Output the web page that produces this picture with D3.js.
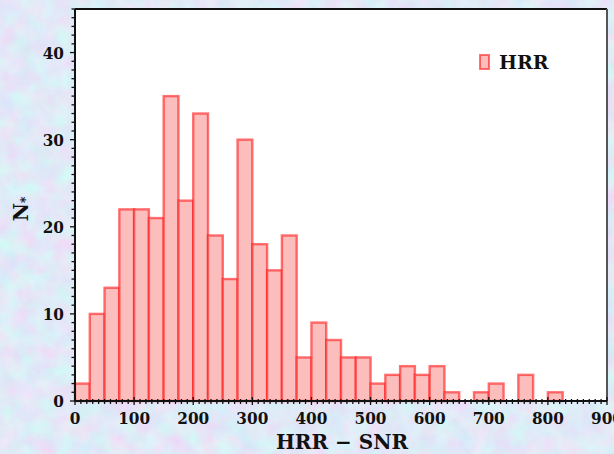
<!DOCTYPE html>
<html>
<head>
<meta charset="utf-8">
<script src="https://cdn.jsdelivr.net/npm/d3@7/dist/d3.min.js"></script>
<style>
  html, body { margin: 0; padding: 0; background: #c4d2f0; }
  svg { display: block; }
  text { font-family: "DejaVu Serif Condensed", "DejaVu Serif", serif; font-weight: bold; fill: #111; }
  text.title { font-family: "DejaVu Serif", serif; }
</style>
</head>
<body>
<svg id="chart" width="614" height="454"></svg>
<script>
// Histogram of HRR − SNR, bin width 25
const binStarts = [0, 25, 50, 75, 100, 125, 150, 175, 200, 225, 250, 275, 300, 325, 350, 375,
                   400, 425, 450, 475, 500, 525, 550, 575, 600, 625, 650, 675, 700, 725, 750, 775, 800];
const counts    = [2, 10, 13, 22, 22, 21, 35, 23, 33, 19, 14, 30, 18, 15, 19, 5,
                   9, 7, 5, 5, 2, 3, 4, 3, 4, 1, 0, 1, 2, 0, 3, 0, 1];
const binWidth = 25;
const xTickLabels = [0, 100, 200, 300, 400, 500, 600, 700, 800, 900];
const yTickLabels = [0, 10, 20, 30, 40];
const seriesName = "HRR";

const svg = d3.select("#chart");
const W = 614, H = 454;
const m = { left: 75, right: 607, top: 9, bottom: 401 };

// mottled blue background
const defs = svg.append("defs");
const f = defs.append("filter").attr("id", "paper").attr("x", 0).attr("y", 0).attr("width", "100%").attr("height", "100%");
f.append("feTurbulence").attr("type", "fractalNoise").attr("baseFrequency", "0.055").attr("numOctaves", 4).attr("seed", 7).attr("result", "n");
f.append("feColorMatrix").attr("in", "n").attr("type", "matrix")
  .attr("values", "0.34 0 0 0 0.58   -0.22 0.22 0 0 0.82   0 0 0.08 0 0.89   0 0 0 0 1");
svg.append("rect").attr("width", W).attr("height", H).attr("filter", "url(#paper)");

// plot area
svg.append("rect").attr("x", m.left).attr("y", m.top).attr("width", m.right - m.left).attr("height", m.bottom - m.top).attr("fill", "#fff");

const x = d3.scaleLinear().domain([0, 900]).range([m.left, m.right]);
const y = d3.scaleLinear().domain([0, 45]).range([m.bottom, m.top]);

const bins = binStarts.map((s, i) => ({ x0: s, x1: s + binWidth, n: counts[i] })).filter(d => d.n > 0);

svg.append("g").selectAll("rect").data(bins).join("rect")
  .attr("x", d => x(d.x0))
  .attr("y", d => y(d.n))
  .attr("width", d => x(d.x1) - x(d.x0))
  .attr("height", d => y(0) - y(d.n))
  .attr("fill", "#fcbdbd")
  .attr("stroke", "rgba(255,30,30,0.62)")
  .attr("stroke-width", 2.4);

// frame
svg.append("line").attr("x1", m.left).attr("x2", m.right).attr("y1", m.top).attr("y2", m.top).attr("stroke", "#111").attr("stroke-width", 2);
svg.append("line").attr("x1", m.right).attr("x2", m.right).attr("y1", m.top).attr("y2", m.bottom).attr("stroke", "#555").attr("stroke-width", 2);

// x axis
const xAxis = svg.append("g").attr("transform", `translate(0,${m.bottom})`);
xAxis.append("line").attr("x1", m.left).attr("x2", m.right).attr("stroke", "#111").attr("stroke-width", 2);
xAxis.selectAll(".tick").data(d3.range(0, 901, 10)).join("line").attr("class", "tick")
  .attr("x1", d => x(d)).attr("x2", d => x(d))
  .attr("y1", d => d % 100 === 0 ? -4 : -2).attr("y2", d => d % 100 === 0 ? 4 : 3)
  .attr("stroke", "#111").attr("stroke-width", 1.3);
xAxis.selectAll("text").data(xTickLabels).join("text")
  .attr("x", d => x(d)).attr("y", 23)
  .attr("text-anchor", "middle").style("font-size", "17px")
  .text(d => d);

// y axis
const yAxis = svg.append("g").attr("transform", `translate(${m.left},0)`);
yAxis.append("line").attr("y1", m.top).attr("y2", m.bottom).attr("stroke", "#111").attr("stroke-width", 2);
yAxis.selectAll(".tick").data(d3.range(0, 46, 1)).join("line").attr("class", "tick")
  .attr("y1", d => y(d)).attr("y2", d => y(d))
  .attr("x1", d => d % 10 === 0 ? -5 : -3.5).attr("x2", 1)
  .attr("stroke", "#111").attr("stroke-width", 1.3);
yAxis.selectAll("text").data(yTickLabels).join("text")
  .attr("x", -11).attr("y", d => y(d) + 6)
  .attr("text-anchor", "end").style("font-size", "17px")
  .text(d => d);

// axis titles
svg.append("text").attr("class", "title").attr("x", 342).attr("y", 449).attr("text-anchor", "middle")
  .style("font-size", "20px").text("HRR − SNR");
const yt = svg.append("text").attr("class", "title").attr("transform", "translate(28,209) rotate(-90)").attr("text-anchor", "middle")
  .style("font-size", "20px");
yt.append("tspan").text("N");
yt.append("tspan").attr("dy", 2).style("font-size", "12px").text("*");

// legend
svg.append("rect").attr("x", 480).attr("y", 55).attr("width", 9).attr("height", 14)
  .attr("fill", "#fcbdbd").attr("stroke", "rgba(255,30,30,0.62)").attr("stroke-width", 2);
svg.append("text").attr("class", "title").attr("x", 499).attr("y", 69).style("font-size", "19px").text(seriesName);
</script>
</body>
</html>
